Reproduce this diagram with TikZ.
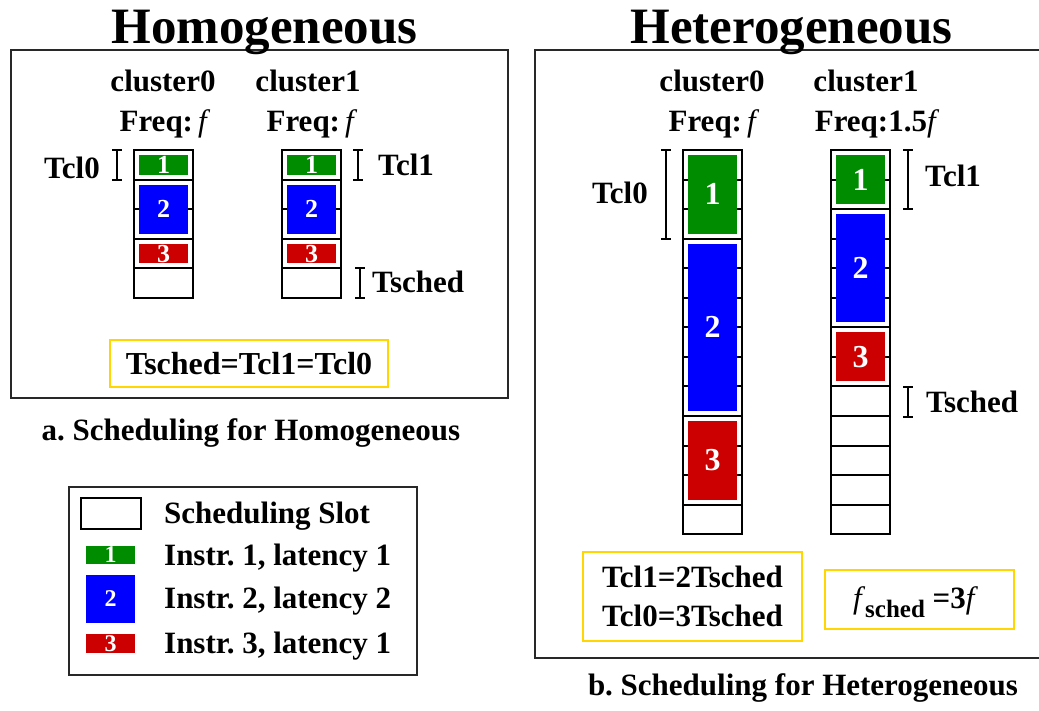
\documentclass[tikz,border=0pt]{standalone}
\usepackage{fontspec}
\setmainfont{Liberation Serif}
\definecolor{ggreen}{RGB}{0,140,0}
\definecolor{bblue}{RGB}{0,0,255}
\definecolor{rred}{RGB}{204,0,0}
\definecolor{ygold}{RGB}{255,214,0}
\definecolor{frame}{RGB}{40,40,40}
\newcommand\lblfont{\fontsize{31}{39}\selectfont\bfseries}
\newcommand\ttlfont{\fontsize{51}{60}\selectfont\bfseries}
\newcommand\itf{\textmd{\textit{f}}}
\frenchspacing
\begin{document}
\frenchspacing
\begin{tikzpicture}[x=1pt,y=-1pt,
  lbl/.style={font=\lblfont,inner sep=0pt},
  ttl/.style={font=\ttlfont,inner sep=0pt},
  panel/.style={draw=frame,line width=1.3pt},
  slotbox/.style={draw=black,line width=2pt,fill=white},
  blk/.style={inner sep=0pt,text=white,font=\bfseries},
  goldbox/.style={draw=ygold,line width=2pt,inner sep=0pt},
  brk/.style={draw=black,line width=1.4pt}]
\useasboundingbox (0,0) rectangle (1039,711);
% panels
\node[panel,minimum width=497pt,minimum height=348pt,inner sep=0pt] (homo) at (259.5,224) {};
\node[panel,minimum width=520pt,minimum height=608pt,inner sep=0pt] (hetero) at (795,354) {};
\node[ttl,anchor=base] (thomo) at (264.5,44) {Homogeneous};
\node[ttl,anchor=base] (thetero) at (791.5,44) {Heterogeneous};
% cluster labels
\node[lbl,anchor=base] (lc0) at (163,92) {cluster0};
\node[lbl,anchor=base] (lc1) at (308,92) {cluster1};
\node[lbl,anchor=base] (lf0) at (165,132) {Freq:\,\itf};
\node[lbl,anchor=base] (lf1) at (312,132) {Freq:\,\itf};
\node[lbl,anchor=base] (rc0) at (712,92) {cluster0};
\node[lbl,anchor=base] (rc1) at (866,92) {cluster1};
\node[lbl,anchor=base] (rf0) at (714,132) {Freq:\,\itf};
\node[lbl,anchor=base] (rf1) at (877,132) {Freq:1.5\itf};
% left stacks
\foreach \sx/\nm in {134/ls0,282/ls1}{
  \foreach \k in {0,...,4}{
    \draw[slotbox] (\sx,150+\k*29.6) rectangle (\sx+59,150+\k*29.6+29.6);
  }
}
\foreach \sx/\nm in {134/l0,282/l1}{
  \node[blk,fill=ggreen,minimum width=49pt,minimum height=20pt,font=\fontsize{26}{28}\selectfont\bfseries] (\nm a) at (\sx+29.5,150+14.8) {1};
  \node[blk,fill=bblue,minimum width=49pt,minimum height=49.2pt,font=\fontsize{26}{28}\selectfont\bfseries] (\nm b) at (\sx+29.5,150+29.6*2) {2};
  \node[blk,fill=rred,minimum width=49pt,minimum height=19.6pt,font=\fontsize{26}{28}\selectfont\bfseries] (\nm c) at (\sx+29.5,150+29.6*3.5) {3};
}
% right stacks
\foreach \sx in {683,831}{
  \foreach \k in {0,...,12}{
    \draw[slotbox] (\sx,150+\k*29.55) rectangle (\sx+59,150+\k*29.55+29.55);
  }
}
\tikzset{rblk/.style={blk,minimum width=49pt,font=\fontsize{32}{34}\selectfont\bfseries}}
\node[rblk,fill=ggreen,minimum height=78.65pt] (r0a) at (712.5,150+29.55*1.5) {1};
\node[rblk,fill=bblue,minimum height=167.3pt] (r0b) at (712.5,150+29.55*6) {2};
\node[rblk,fill=rred,minimum height=78.65pt] (r0c) at (712.5,150+29.55*10.5) {3};
\node[rblk,fill=ggreen,minimum height=49.1pt] (r1a) at (860.5,150+29.55*1) {1};
\node[rblk,fill=bblue,minimum height=108.2pt] (r1b) at (860.5,150+29.55*4) {2};
\node[rblk,fill=rred,minimum height=49.1pt] (r1c) at (860.5,150+29.55*7) {3};
% brackets
\draw[brk] (112,150) -- (122,150) (117,150) -- (117,180) (112,180) -- (122,180);
\draw[brk] (353,150) -- (363,150) (358,150) -- (358,180) (353,180) -- (363,180);
\draw[brk] (355,268) -- (365,268) (360,268) -- (360,298) (355,298) -- (365,298);
\draw[brk] (661,150) -- (671,150) (666,150) -- (666,239) (661,239) -- (671,239);
\draw[brk] (903,150) -- (913,150) (908,150) -- (908,209) (903,209) -- (913,209);
\draw[brk] (903,387) -- (913,387) (908,387) -- (908,417) (903,417) -- (913,417);
\node[lbl,anchor=base east] (ltcl0) at (100,179) {Tcl0};
\node[lbl,anchor=base west] (ltcl1) at (378,176) {Tcl1};
\node[lbl,anchor=base west] (ltsch) at (372,293) {Tsched};
\node[lbl,anchor=base east] (rtcl0) at (648,204) {Tcl0};
\node[lbl,anchor=base west] (rtcl1) at (925,187) {Tcl1};
\node[lbl,anchor=base west] (rtsch) at (926,412) {Tsched};
% gold boxes
\node[goldbox,minimum width=278pt,minimum height=47pt,font=\fontsize{32}{36}\selectfont\bfseries] (eqh) at (249,363.5) {Tsched=Tcl1=Tcl0};
\node[goldbox,minimum width=219pt,minimum height=89pt,align=center,font=\lblfont] (eqr) at (692.5,596.5) {Tcl1=2Tsched\\Tcl0=3Tsched};
\node[goldbox,minimum width=189pt,minimum height=59pt] (fbox) at (919.5,599.5) {};
\node[lbl,anchor=base] (ftxt) at (915.5,608) {\itf\raisebox{-9pt}{\fontsize{25}{28}\selectfont sched}\ =3\itf};
% captions
\node[lbl,anchor=base] (capa) at (251,440) {a. Scheduling for Homogeneous};
\node[lbl,anchor=base] (capb) at (803,695) {b. Scheduling for Heterogeneous};
% legend
\node[panel,minimum width=348pt,minimum height=188pt,inner sep=0pt] (legend) at (243,581) {};
\node[slotbox,minimum width=60pt,minimum height=31pt,inner sep=0pt] (lgslot) at (111,513.5) {};
\node[blk,fill=ggreen,minimum width=49pt,minimum height=18pt,font=\fontsize{24}{26}\selectfont\bfseries] (lg1) at (110.5,555) {1};
\node[blk,fill=bblue,minimum width=49pt,minimum height=48pt,font=\fontsize{24}{26}\selectfont\bfseries] (lg2) at (110.5,599) {2};
\node[blk,fill=rred,minimum width=49pt,minimum height=19pt,font=\fontsize{24}{26}\selectfont\bfseries] (lg3) at (110.5,643.5) {3};
\node[lbl,anchor=base west] (lt0) at (164,523) {Scheduling Slot};
\node[lbl,anchor=base west] (lt1) at (164,565) {Instr. 1, latency 1};
\node[lbl,anchor=base west] (lt2) at (164,608) {Instr. 2, latency 2};
\node[lbl,anchor=base west] (lt3) at (164,653) {Instr. 3, latency 1};
\end{tikzpicture}
\end{document}
